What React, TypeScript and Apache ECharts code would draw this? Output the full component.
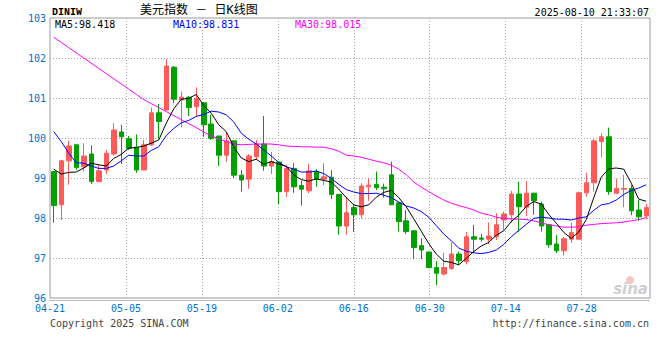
import React, { useEffect, useRef } from "react";
import * as echarts from "echarts";

const dates = [
  "04-21","04-22","04-23","04-24","04-25","04-28","04-29","04-30","05-01","05-02",
  "05-05","05-06","05-07","05-08","05-09","05-12","05-13","05-14","05-15","05-16",
  "05-19","05-20","05-21","05-22","05-23","05-26","05-27","05-28","05-29","05-30",
  "06-02","06-03","06-04","06-05","06-06","06-09","06-10","06-11","06-12","06-13",
  "06-16","06-17","06-18","06-19","06-20","06-23","06-24","06-25","06-26","06-27",
  "06-30","07-01","07-02","07-03","07-04","07-07","07-08","07-09","07-10","07-11",
  "07-14","07-15","07-16","07-17","07-18","07-21","07-22","07-23","07-24","07-25",
  "07-28","07-29","07-30","07-31","08-01","08-04","08-05","08-06","08-07","08-08",
];

const opens = [
  99.16,98.33,99.43,99.83,99.28,99.6,98.91,99.2,99.6,100.15,
  99.98,99.77,99.2,99.83,100.63,100.7,101.77,100.95,101.02,100.78,
  100.88,100.35,100.05,99.57,99.93,99.07,98.97,99.53,99.85,99.3,
  99.4,98.66,99.24,98.81,98.68,99.17,98.97,99.02,98.59,97.8,
  98.26,98.08,98.78,98.84,98.77,99.08,98.38,97.93,97.68,97.31,
  97.15,96.76,96.6,96.74,97.1,96.91,97.53,97.5,97.47,97.53,
  97.95,98.08,98.6,98.27,98.62,98.35,97.83,97.35,97.18,97.47,
  97.47,98.63,98.88,99.91,100.03,98.62,98.72,98.74,98.2,98.05,
];
const closes = [
  98.31,99.43,99.8,99.26,99.55,98.91,99.18,99.62,100.2,100.03,
  99.74,99.2,99.83,100.63,100.41,101.8,100.97,101.02,100.76,100.99,
  100.33,99.99,99.57,99.93,99.07,98.95,99.55,99.85,99.3,99.41,
  98.66,99.24,98.78,98.72,99.18,98.97,99.03,98.59,97.8,98.13,
  98.08,98.8,98.82,98.76,98.73,98.33,97.91,97.66,97.26,97.2,
  96.76,96.62,96.76,97.1,96.93,97.53,97.47,97.47,97.55,97.83,
  98.1,98.6,98.28,98.62,98.43,97.8,97.33,97.18,97.48,97.64,
  98.63,98.88,99.93,100.03,98.66,98.74,98.74,98.18,98.03,98.26,
];
const lows = [
  97.88,97.95,98.83,99.2,99.16,98.85,98.9,99.1,99.56,99.35,
  99.7,99.13,99.2,99.8,99.99,100.7,100.87,100.27,100.55,100.53,
  100.03,99.95,99.3,99.41,99.0,98.66,98.73,99.45,99.18,99.1,
  98.35,98.53,98.63,98.31,98.62,98.78,98.82,98.47,97.58,97.58,
  97.66,97.99,98.43,98.7,98.51,98.33,97.66,97.6,96.97,96.97,
  96.74,96.32,96.56,96.7,96.83,96.84,97.12,97.41,97.35,97.45,
  97.7,97.88,97.66,98.05,98.08,97.66,97.26,97.12,97.06,97.38,
  97.47,98.53,98.66,99.52,98.58,98.6,98.27,98.07,97.93,97.97,
];
const highs = [
  99.18,99.45,99.93,99.84,99.87,99.82,99.33,99.7,100.37,100.33,
  100.05,100.09,99.95,100.76,100.85,101.97,101.8,101.16,101.05,101.27,
  100.9,100.58,100.05,100.13,99.94,99.2,99.6,99.95,100.55,99.65,
  99.41,99.33,99.37,98.93,99.35,99.22,99.37,99.2,98.6,98.53,
  98.34,98.87,98.99,99.16,98.86,99.41,98.38,98.2,97.69,97.49,
  97.16,96.92,97.13,97.39,97.16,97.65,97.83,97.6,97.89,98.12,
  98.16,98.68,98.91,98.92,98.63,98.41,97.84,97.57,97.53,97.88,
  98.66,99.13,99.97,100.12,100.26,98.98,99.08,98.82,98.45,98.35,
];

const ma5 = [
  99.22,99.10,99.14,99.15,99.25,99.37,99.33,99.30,99.49,99.59,
  99.75,99.76,99.80,99.87,99.95,100.37,100.73,100.97,100.99,101.09,
  100.81,100.62,100.33,100.16,99.78,99.50,99.41,99.47,99.34,99.41,
  99.35,99.29,99.08,98.96,98.92,98.98,98.94,98.90,98.72,98.51,
  98.33,98.28,98.33,98.52,98.64,98.69,98.51,98.28,97.98,97.67,
  97.36,97.10,96.92,96.89,96.83,96.99,97.16,97.30,97.39,97.57,
  97.68,97.91,98.07,98.29,98.41,98.35,98.09,97.87,97.64,97.49,
  97.65,97.96,98.51,99.02,99.23,99.25,99.22,98.87,98.47,98.42,
];
const ma10 = [
  100.16,99.91,99.62,99.38,99.37,99.30,99.24,99.24,99.30,99.43,
  99.57,99.55,99.55,99.69,99.78,100.06,100.24,100.38,100.44,100.54,
  100.59,100.67,100.65,100.58,100.40,100.12,99.97,99.85,99.70,99.55,
  99.39,99.28,99.22,99.15,99.15,99.17,99.11,98.99,98.84,98.71,
  98.65,98.61,98.61,98.62,98.57,98.51,98.40,98.30,98.25,98.16,
  98.02,97.81,97.60,97.43,97.25,97.17,97.13,97.11,97.14,97.20,
  97.34,97.53,97.69,97.84,97.99,98.02,98.00,97.97,97.97,97.95,
  98.00,98.03,98.19,98.33,98.36,98.45,98.59,98.69,98.75,98.83,
];
const ma30 = [
  102.52,102.39,102.26,102.13,102.00,101.87,101.74,101.61,101.48,101.35,
  101.22,101.09,100.96,100.86,100.76,100.66,100.56,100.46,100.36,100.26,
  100.15,100.05,99.98,99.91,99.85,99.83,99.84,99.85,99.85,99.85,
  99.83,99.80,99.79,99.78,99.78,99.77,99.77,99.73,99.67,99.57,
  99.55,99.52,99.47,99.42,99.38,99.32,99.22,99.08,98.90,98.77,
  98.66,98.55,98.45,98.37,98.31,98.26,98.20,98.12,98.08,98.02,
  97.99,97.98,97.97,97.96,97.93,97.88,97.83,97.80,97.77,97.77,
  97.78,97.82,97.84,97.86,97.87,97.88,97.90,97.93,97.96,98.01,
];

const maLabels = ["MA5:98.418", "MA10:98.831", "MA30:98.015"];
const maColors = ["#000000", "#0000ff", "#ff00ff"];

const MONO = "'DejaVu Sans Mono', monospace";
const AXIS_BLUE = "#0072d0";
const RED = "#ff5a5a";
const GREEN = "#00a000";

export default function App() {
  const ref = useRef<HTMLDivElement>(null);

  useEffect(() => {
    if (!ref.current) return;
    const chart = echarts.init(ref.current, null, { renderer: "svg" });
    const candleData = dates.map((_, i) => [opens[i], closes[i], lows[i], highs[i]]);

    chart.setOption({
      animation: false,
      backgroundColor: "#ffffff",
      grid: {
        left: 50,
        right: 10,
        top: 18,
        bottom: 62,
        show: true,
        borderColor: "#9a9a9a",
        borderWidth: 1,
        backgroundColor: "transparent",
      },
      xAxis: [
        {
          type: "category",
          data: dates,
          boundaryGap: true,
          show: false,
        },
        {
          type: "category",
          data: dates,
          boundaryGap: false,
          position: "bottom",
          offset: 2,
          axisLine: { show: true, lineStyle: { color: "#aaaaaa", type: [1, 1] } },
          axisTick: { show: false, interval: 9 },
          axisLabel: {
            interval: 9,
            color: AXIS_BLUE,
            fontFamily: MONO,
            fontSize: 10,
            margin: 3,
          },
          splitLine: {
            show: true,
            interval: 9,
            showMinLine: false,
            lineStyle: { color: "#aaaaaa", type: [1, 2], width: 1 },
          },
        },
      ],
      yAxis: {
        type: "value",
        min: 96,
        max: 103,
        interval: 1,
        axisLine: { show: false },
        axisTick: { show: false },
        axisLabel: { color: AXIS_BLUE, fontFamily: MONO, fontSize: 10, margin: 4 },
        splitLine: {
          show: true,
          showMinLine: false,
          showMaxLine: false,
          lineStyle: { color: "#aaaaaa", type: [1, 2], width: 1 },
        },
      },
      series: [
        {
          type: "candlestick",
          xAxisIndex: 0,
          data: candleData,
          barWidth: 5,
          itemStyle: {
            color: RED,
            color0: GREEN,
            borderColor: RED,
            borderColor0: GREEN,
            borderWidth: 1,
          },
          z: 2,
        },
        {
          type: "line",
          xAxisIndex: 0,
          data: ma30,
          symbol: "none",
          lineStyle: { color: maColors[2], width: 1 },
          itemStyle: { color: maColors[2] },
          z: 3,
        },
        {
          type: "line",
          xAxisIndex: 0,
          data: ma10,
          symbol: "none",
          lineStyle: { color: maColors[1], width: 1 },
          itemStyle: { color: maColors[1] },
          z: 4,
        },
        {
          type: "line",
          xAxisIndex: 0,
          data: ma5,
          symbol: "none",
          lineStyle: { color: maColors[0], width: 1 },
          itemStyle: { color: maColors[0] },
          z: 5,
        },
      ],
      graphic: [
        {
          type: "text",
          x: 52,
          y: 12,
          style: {
            text: "DINIW",
            font: "bold 10px 'Liberation Mono', monospace",
            fill: "#000",
            textVerticalAlign: "middle",
          },
        },
        {
          type: "text",
          x: 140,
          y: 10,
          style: {
            text: "美元指数 － 日K线图",
            font: "12px 'DejaVu Sans Mono', 'Noto Sans CJK SC', sans-serif",
            fill: "#000",
            textVerticalAlign: "middle",
          },
        },
        {
          type: "text",
          x: 649,
          y: 12,
          style: {
            text: "2025-08-10 21:33:07",
            font: `10px ${MONO}`,
            fill: "#000",
            textAlign: "right",
            textVerticalAlign: "middle",
          },
        },
        {
          type: "text",
          x: 55,
          y: 24,
          style: { text: maLabels[0], font: `10px ${MONO}`, fill: maColors[0], textVerticalAlign: "middle" },
        },
        {
          type: "text",
          x: 173,
          y: 24,
          style: { text: maLabels[1], font: `10px ${MONO}`, fill: maColors[1], textVerticalAlign: "middle" },
        },
        {
          type: "text",
          x: 295,
          y: 24,
          style: { text: maLabels[2], font: `10px ${MONO}`, fill: maColors[2], textVerticalAlign: "middle" },
        },
        {
          type: "text",
          x: 50,
          y: 323,
          style: {
            text: "Copyright 2025 SINA.COM",
            font: `10px ${MONO}`,
            fill: "#444",
            textVerticalAlign: "middle",
          },
        },
        {
          type: "text",
          x: 649,
          y: 323,
          style: {
            text: "http://finance.sina.com.cn",
            font: `10px ${MONO}`,
            fill: "#444",
            textAlign: "right",
            textVerticalAlign: "middle",
          },
        },
        {
          type: "circle",
          shape: { cx: 630, cy: 280, r: 4 },
          style: { fill: "#f7c4c4" },
          z: 1,
        },
        {
          type: "text",
          x: 648,
          y: 289,
          z: 1,
          style: {
            text: "sina",
            font: "italic bold 15px 'DejaVu Sans', sans-serif",
            fill: "#cfcfcf",
            textAlign: "right",
            textVerticalAlign: "middle",
          },
        },
      ],
    });

    return () => chart.dispose();
  }, []);

  return (
    <div
      ref={ref}
      style={{ position: "fixed", left: 0, top: 0, width: 660, height: 360, background: "#fff" }}
    />
  );
}
